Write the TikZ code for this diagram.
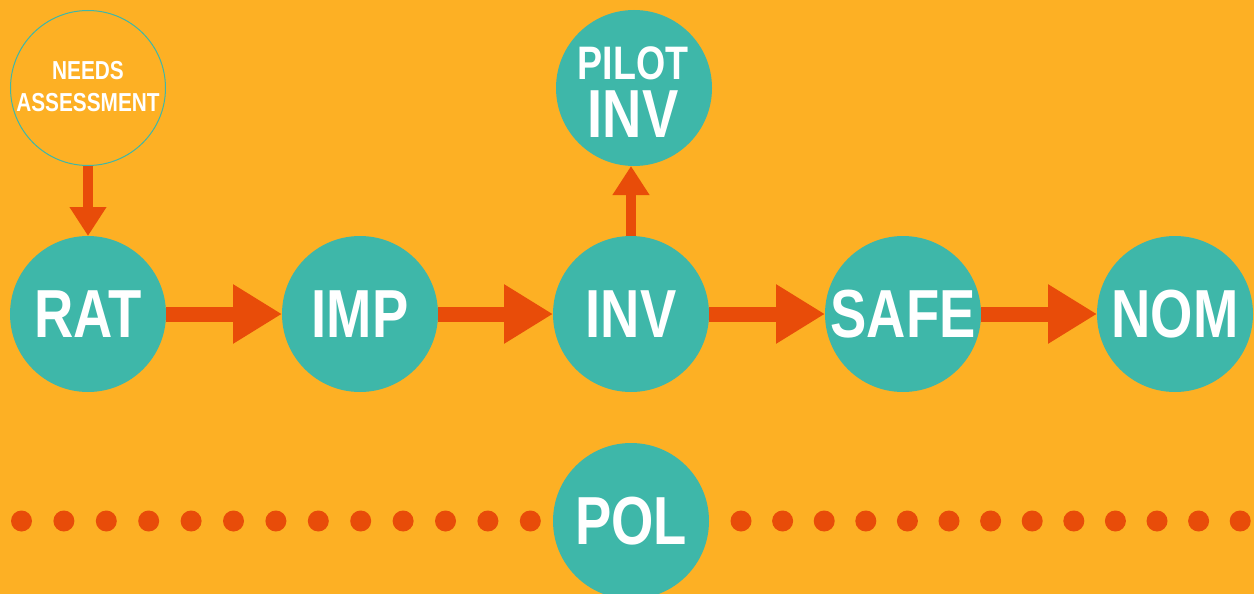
\documentclass[tikz,border=0pt]{standalone}
\usepackage{fontspec}
\newfontfamily\cf{Liberation Sans}[FakeStretch=0.8]
\usetikzlibrary{arrows.meta}
\definecolor{bg}{HTML}{FDB024}
\definecolor{tealc}{HTML}{3EB7A9}
\definecolor{arr}{HTML}{E84C09}
\begin{document}
\begin{tikzpicture}[x=1pt,y=-1pt,
  bubble/.style={circle,fill=tealc,minimum size=156pt,inner sep=0pt,outer sep=0pt,text=white,font=\cf\bfseries\fontsize{68}{70}\selectfont},
  ring/.style={circle,draw=tealc,line width=1pt,minimum size=155pt,inner sep=0pt,outer sep=0pt},
  txt/.style={text=white,inner sep=0pt,anchor=base},
  harrow/.style={draw=arr,line width=15pt,-{Triangle[length=49pt,width=56pt]}},
  varrow/.style={draw=arr,line width=10pt,-{Triangle[length=29pt,width=35pt]}},
  dot/.style={circle,fill=arr,minimum size=21pt,inner sep=0pt}]
\useasboundingbox (0,0) rectangle (1254,594);
\clip (0,0) rectangle (1254,594);
\fill[bg] (0,0) rectangle (1254,594);
% dots
\foreach \i in {0,...,12} {
  \node[dot] (dl\i) at ({21.5+42.4*\i},521) {};
  \node[dot] (dr\i) at ({741+41.6*\i},521) {};
}
% main row
\node[bubble] (rat)  at (88,314)  {RAT};
\node[bubble] (imp)  at (360,314) {IMP};
\node[bubble] (inv)  at (631,314) {INV};
\node[bubble] (safe) at (903,314) {SAFE};
\node[bubble] (nom)  at (1175,314) {NOM};
\node[bubble] (pol)  at (631,521) {POL};
% pilot
\node[bubble] (pilot) at (634,88) {};
\node[txt,font=\cf\bfseries\fontsize{47}{50}\selectfont] (pilottxt) at (633,80) {PILOT};
\node[txt,font=\cf\bfseries\fontsize{68}{70}\selectfont] (pilotinv) at (633,137) {INV};
% needs assessment
\node[ring] (needs) at (88,88) {};
\node[txt,font=\cf\bfseries\fontsize{26}{28}\selectfont] (needs1) at (88,80) {NEEDS};
\node[txt,font=\cf\bfseries\fontsize{26}{28}\selectfont] (needs2) at (88,112) {ASSESSMENT};
% arrows
\draw[harrow] (rat) -- (imp);
\draw[harrow] (imp) -- (inv);
\draw[harrow] (inv) -- (safe);
\draw[harrow] (safe) -- (nom);
\draw[varrow] (needs) -- (rat);
\draw[varrow] (inv.north) -- (inv.north |- pilot.south);
\end{tikzpicture}
\end{document}
